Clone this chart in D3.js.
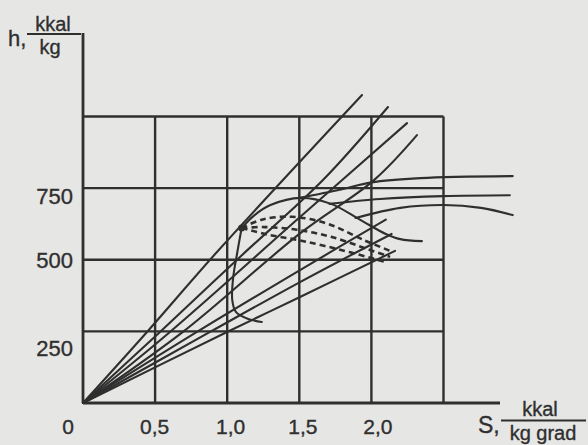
<!DOCTYPE html>
<html>
<head>
<meta charset="utf-8">
<script src="https://cdn.jsdelivr.net/npm/d3@7/dist/d3.min.js"></script>
<style>
  html, body { margin: 0; padding: 0; background: #e6e6e4; }
  svg { display: block; }
  text { font-family: "Liberation Sans", Arial, sans-serif; fill: #2f2f2f; stroke: #2f2f2f; stroke-width: 0.35px; }
</style>
</head>
<body>
<svg id="chart" width="588" height="445"></svg>
<script>
// h–s diagram of water vapour (entropy s, kkal/(kg·grad); enthalpy h, kkal/kg)

const sTicks = [0.5, 1.0, 1.5, 2.0];
const sTickLabels = ["0,5", "1,0", "1,5", "2,0"];
const hTicks = [250, 500, 750];
const hTickLabels = ["250", "500", "750"];
const sGrid = [0.5, 1.0, 1.5, 2.0, 2.5];
const hGrid = [250, 500, 750, 1000];

// isobars, fanning out from the origin
const isobar1 = [[0, 0], [0.444, 248], [0.929, 527], [1.935, 1075]];
const isobar2 = [[0, 0], [0.534, 248], [1.10, 515], [1.664, 778], [2.115, 1033]];
const isobar3 = [[0, 0], [0.603, 248], [1.505, 649], [2.247, 977]];
const isobar4 = [[0, 0], [0.693, 248], [1.505, 592], [2.018, 778], [2.316, 935]];
const isobar5 = [[0, 0], [0.79, 248], [1.505, 464], [2.10, 640]];
const isobar6 = [[0, 0], [0.881, 248], [1.505, 422], [2.14, 590]];
const isobar7 = [[0, 0], [0.999, 248], [1.505, 370], [2.164, 531]];

// isotherms in the superheated region
const isotherm1 = [[1.505, 716], [1.78, 744], [2.00, 770], [2.34, 785], [2.98, 792]];
const isotherm2 = [[1.71, 695], [2.06, 712], [2.50, 722], [2.96, 725]];
const isotherm3 = [[1.89, 646], [2.20, 681], [2.50, 691], [2.76, 681], [2.98, 656]];

// saturation curve (dry saturated vapour) from the critical point
const vapourLine = [[1.10, 611], [1.19, 656], [1.30, 691], [1.51, 716], [1.72, 695], [1.92, 640], [2.10, 590], [2.20, 572], [2.35, 565]];
// boiling-liquid branch below the critical point
const liquidLine = [[1.10, 611], [1.068, 520], [1.042, 440], [1.035, 360], [1.06, 318], [1.146, 293], [1.24, 283]];
// lines of constant dryness inside the wet region
const dryness1 = [[1.10, 611], [1.24, 640], [1.45, 650], [1.70, 625], [1.95, 568], [2.15, 527]];
const dryness2 = [[1.10, 611], [1.26, 614], [1.48, 605], [1.72, 580], [1.98, 536], [2.13, 510]];
const dryness3 = [[1.10, 611], [1.28, 588], [1.50, 568], [1.76, 538], [2.02, 503], [2.10, 492]];
const criticalPoint = [1.10, 611];

const isobars = [isobar1, isobar2, isobar3, isobar4, isobar5, isobar6, isobar7];
const isotherms = [isotherm1, isotherm2, isotherm3];
const drynessLines = [dryness1, dryness2, dryness3];

const ink = "#2f2f2f";
const svg = d3.select("#chart");

const x = d3.scaleLinear().domain([0, 2.5]).range([83, 443.5]);
const y = d3.scaleLinear().domain([0, 1000]).range([403, 116.5]);

const line = d3.line().x(d => x(d[0])).y(d => y(d[1])).curve(d3.curveCatmullRom.alpha(0.5));

// grid
const grid = svg.append("g").attr("stroke", ink).attr("stroke-width", 2.4).attr("fill", "none");
grid.selectAll("line.v").data(sGrid).join("line")
  .attr("x1", d => x(d)).attr("x2", d => x(d))
  .attr("y1", y(0)).attr("y2", y(1000));
grid.selectAll("line.h").data(hGrid).join("line")
  .attr("x1", x(0)).attr("x2", x(2.5))
  .attr("y1", d => y(d)).attr("y2", d => y(d));

// axes with tick labels
const xLabelShift = { 0.5: -1, 1.0: 3, 1.5: 3, 2.0: 6 };
const xAxis = d3.axisBottom(x).tickValues(sTicks).tickSize(0).tickFormat((d, i) => sTickLabels[i]);
const gx = svg.append("g").attr("transform", `translate(0,${y(0)})`).call(xAxis);
gx.select(".domain").remove();
gx.selectAll("text").attr("dy", "0").attr("y", 31).attr("dx", d => xLabelShift[d])
  .style("font-size", "21px").attr("fill", ink);

const yLabelShift = { 250: 17, 500: 0, 750: 8 };
const yAxis = d3.axisLeft(y).tickValues(hTicks).tickSize(0).tickFormat((d, i) => hTickLabels[i]);
const gy = svg.append("g").attr("transform", `translate(${x(0)},0)`).call(yAxis);
gy.select(".domain").remove();
gy.selectAll("text").attr("x", -10).attr("dy", d => (yLabelShift[d] + 7.5) + "px")
  .style("font-size", "22px").attr("fill", ink);

svg.append("line").attr("x1", x(0)).attr("x2", 500).attr("y1", y(0)).attr("y2", y(0))
  .attr("stroke", ink).attr("stroke-width", 2.8);
svg.append("line").attr("x1", x(0)).attr("x2", x(0)).attr("y1", y(0)).attr("y2", 33)
  .attr("stroke", ink).attr("stroke-width", 2.8);

svg.append("text").attr("x", 68).attr("y", 434).attr("text-anchor", "middle")
  .style("font-size", "21px").text("0");

// curves
const curves = svg.append("g").attr("fill", "none").attr("stroke", ink)
  .attr("stroke-width", 2.1).attr("stroke-linecap", "round");
curves.selectAll("path.isobar").data(isobars).join("path").attr("class", "isobar").attr("d", line);
curves.selectAll("path.isotherm").data(isotherms).join("path").attr("class", "isotherm").attr("d", line);
curves.append("path").attr("d", line(vapourLine));
curves.append("path").attr("d", line(liquidLine));
curves.selectAll("path.dry").data(drynessLines).join("path").attr("class", "dry")
  .attr("d", line).attr("stroke-dasharray", "6,4").attr("stroke-width", 2.6)
  .attr("stroke-linecap", "butt");
svg.append("circle").attr("cx", x(criticalPoint[0])).attr("cy", y(criticalPoint[1]))
  .attr("r", 3.5).attr("fill", ink);

// axis titles
const hTitle = svg.append("g");
hTitle.append("text").attr("x", 8).attr("y", 46).style("font-size", "22px").text("h,");
hTitle.append("text").attr("x", 53).attr("y", 30.5).attr("text-anchor", "middle").style("font-size", "20px").text("kkal");
hTitle.append("line").attr("x1", 27).attr("x2", 81).attr("y1", 34).attr("y2", 34).attr("stroke", ink).attr("stroke-width", 2);
hTitle.append("text").attr("x", 50).attr("y", 54).attr("text-anchor", "middle").style("font-size", "20px").text("kg");

const sTitle = svg.append("g");
sTitle.append("text").attr("x", 478).attr("y", 433).style("font-size", "23px").text("S,");
sTitle.append("text").attr("x", 540).attr("y", 415.5).attr("text-anchor", "middle").style("font-size", "20px").text("kkal");
sTitle.append("line").attr("x1", 501).attr("x2", 586).attr("y1", 420.5).attr("y2", 420.5).attr("stroke", ink).attr("stroke-width", 2);
sTitle.append("text").attr("x", 543).attr("y", 439.5).attr("text-anchor", "middle").style("font-size", "20px").text("kg grad");
</script>
</body>
</html>
